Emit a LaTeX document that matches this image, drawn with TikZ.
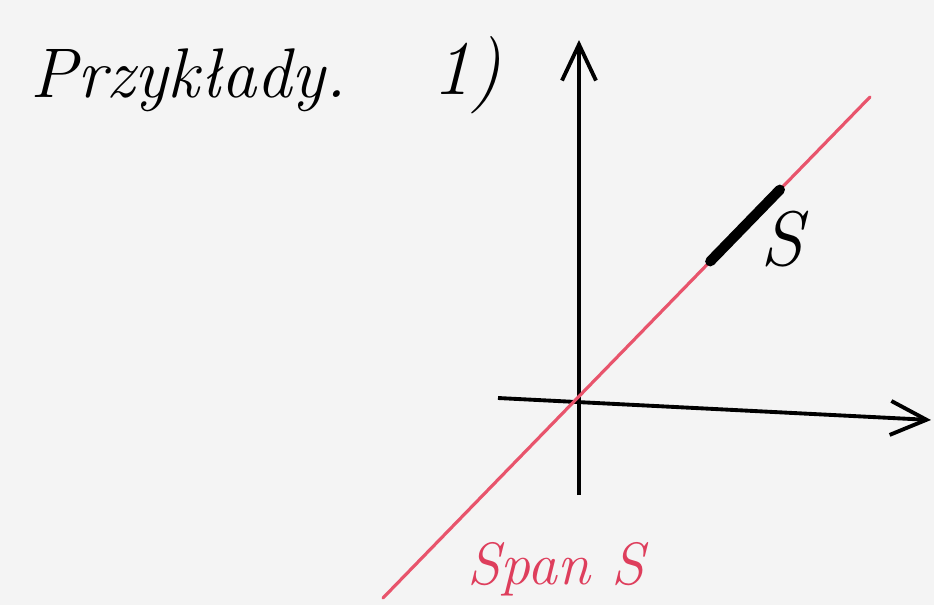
\documentclass[tikz,border=0pt]{standalone}
\usepackage{tikz}
\usetikzlibrary{arrows.meta,calc,positioning}
\definecolor{paper}{RGB}{244,244,244}
\definecolor{spanred}{RGB}{232,84,108}
\definecolor{labred}{RGB}{222,62,92}
\tikzset{
  axis/.style={black, line width=1.1pt,
               -{Straight Barb[length=3.6mm,width=3.4mm,line width=1.1pt]}},
  spanline/.style={spanred, line width=0.9pt},
  vecseg/.style={black, line width=2.9pt, line cap=round},
  hand/.style={font=\fontsize{22}{26}\selectfont\itshape, inner sep=0pt},
  redlab/.style={font=\fontsize{17}{20}\selectfont\itshape, text=labred, inner sep=0pt},
}
\begin{document}
\begin{tikzpicture}[x=1cm,y=1cm]
  \fill[paper] (0,0) rectangle (9.34,6.05);
  \useasboundingbox (0,0) rectangle (9.34,6.05);

  % heading
  \node[hand, font=\fontsize{20}{24}\selectfont\itshape, anchor=base west]
    (title) at (0.30,5.08) {Przykłady.};
  \node[hand] (num) at (4.67,5.30) {1)};

  % axes
  \coordinate (ybot) at (5.79,1.10);
  \coordinate (ytop) at (5.79,5.65);
  \coordinate (xleft) at (4.98,2.07);
  \coordinate (xright) at (9.31,1.85);
  \draw[axis] (ybot) -- (ytop);
  \draw[axis] (xleft) -- (xright);

  % the span of S through the origin
  \coordinate (lo) at (3.83,0.07);
  \coordinate (hi) at (8.70,5.08);
  \draw[spanline, line cap=round] (lo) -- (hi);
  \coordinate (s0) at ($(lo)!0.672!(hi)$);
  \coordinate (s1) at ($(lo)!0.815!(hi)$);
  \draw[vecseg] (s0) -- (s1);

  \node[hand] (slab) at (7.82,3.66) {S};
  \node[redlab] (spanlab) at (5.56,0.36) {Span S};
\end{tikzpicture}
\end{document}
